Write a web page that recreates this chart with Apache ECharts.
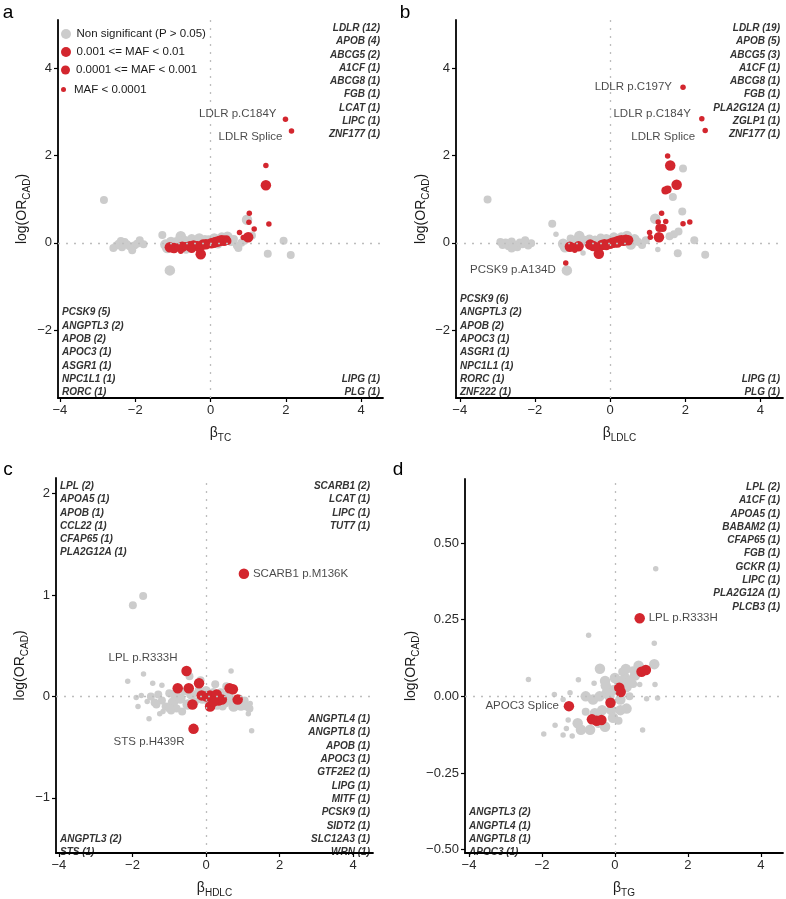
<!DOCTYPE html>
<html>
<head>
<meta charset="utf-8">
<script src="https://cdn.jsdelivr.net/npm/echarts@6/dist/echarts.min.js"></script>
<style>
  html, body { margin: 0; background: #fff; }
  #chart { width: 786px; height: 899px; }
</style>
</head>
<body>
<div id="chart"></div>
<script>
// ---- data: [beta, log(OR_CAD), MAF class] (class 1: MAF<1e-4, 2: 1e-4..1e-3, 3: 1e-3..1e-2)
const aNonSig = [
  [-2.83, 0.98, 2], [-2.58, -0.12, 2], [-2.5, -0.06, 2], [-2.44, -0.02, 2], [-2.38, 0.04, 2],
  [-2.32, -0.05, 2], [-2.28, 0.02, 2], [-2.22, -0.03, 2], [-2.15, -0.08, 2], [-2.08, -0.17, 2],
  [-2.02, -0.06, 2], [-1.95, -0.02, 2], [-1.88, 0.06, 2], [-1.78, -0.03, 2], [-2.35, -0.1, 2],
  [-1.28, 0.18, 2], [-1.2, -0.04, 3], [-1.15, -0.12, 3], [-1.08, -0.63, 3], [-1.05, 0.02, 3],
  [-0.9, 0.04, 2], [-0.79, 0.15, 3], [-0.7, 0.05, 3], [-0.6, -0.02, 2], [-0.5, 0.08, 3],
  [-0.38, 0.02, 2], [-0.3, 0.1, 3], [-0.15, 0.06, 3], [-0.05, 0.08, 2], [0.1, 0.1, 3],
  [0.3, 0.12, 3], [0.45, 0.14, 3], [0.55, 0.05, 3], [0.62, 0.09, 2], [0.7, -0.06, 2],
  [0.74, -0.12, 2], [0.82, 0.0, 2], [0.9, 0.05, 2], [0.97, 0.53, 3], [1.1, 0.17, 2],
  [1.52, -0.25, 2], [1.94, 0.05, 2], [2.13, -0.28, 2], [-0.65, -0.16, 2], [0.2, -0.04, 2]
];
const aSig = [
  [1.99, 2.83, 1], [2.15, 2.56, 1], [1.47, 1.77, 1], [1.47, 1.32, 3], [1.03, 0.68, 1],
  [1.02, 0.47, 1], [1.16, 0.32, 1], [1.55, 0.43, 1], [0.77, 0.24, 1], [0.87, 0.12, 1],
  [1.0, 0.13, 3],
  [-1.08, -0.1, 3], [-0.97, -0.12, 3], [-0.85, -0.1, 2], [-0.75, -0.09, 3], [-0.65, -0.07, 2],
  [-0.55, -0.08, 3], [-0.45, -0.06, 3], [-0.35, -0.05, 2], [-0.26, -0.26, 3], [-0.3, -0.1, 3],
  [-0.2, -0.04, 3], [-0.12, -0.03, 3], [-0.05, -0.02, 2], [0.02, -0.01, 3], [0.08, 0.0, 3],
  [0.14, 0.02, 3], [0.2, 0.03, 3], [0.25, 0.05, 3], [0.3, 0.06, 3], [0.36, 0.05, 3],
  [0.42, 0.08, 2], [0.45, 0.04, 2], [-0.79, -0.19, 1], [-0.5, -0.14, 2]
];
const aLabels = [[1.99, 2.83, 'LDLR p.C184Y'], [2.15, 2.56, 'LDLR Splice']];
const aGenesTopRight = ['LDLR (12)', 'APOB (4)', 'ABCG5 (2)', 'A1CF (1)', 'ABCG8 (1)', 'FGB (1)', 'LCAT (1)', 'LIPC (1)', 'ZNF177 (1)'];
const aGenesBottomLeft = ['PCSK9 (5)', 'ANGPTL3 (2)', 'APOB (2)', 'APOC3 (1)', 'ASGR1 (1)', 'NPC1L1 (1)', 'RORC (1)'];
const aGenesBottomRight = ['LIPG (1)', 'PLG (1)'];

const bNonSig = [
  [-3.26, 0.99, 2], [-2.92, 0.02, 2], [-2.86, -0.05, 2], [-2.78, 0.01, 2], [-2.7, -0.08, 2],
  [-2.62, 0.03, 2], [-2.55, -0.04, 2], [-2.47, -0.1, 2], [-2.4, 0.01, 2], [-2.33, -0.03, 2],
  [-2.26, 0.06, 2], [-2.18, -0.06, 2], [-2.1, -0.01, 2], [-2.62, -0.13, 2],
  [-1.54, 0.44, 2], [-1.44, 0.2, 1], [-1.25, -0.02, 3], [-1.2, -0.1, 3], [-1.15, -0.63, 3],
  [-1.05, 0.1, 2], [-0.95, 0.04, 3], [-0.82, 0.16, 3], [-0.72, -0.23, 1], [-0.7, 0.05, 3],
  [-0.55, 0.1, 2], [-0.4, 0.05, 3], [-0.25, 0.12, 2], [-0.1, 0.08, 3], [0.1, 0.12, 3],
  [0.3, 0.12, 3], [0.45, 0.16, 3], [0.55, -0.04, 3], [0.65, 0.08, 3], [0.75, 0.02, 2],
  [0.85, -0.05, 2], [0.95, 0.06, 2], [1.2, 0.55, 3], [1.27, -0.15, 1], [1.58, 0.15, 2],
  [1.67, 1.05, 2], [1.82, 0.26, 2], [1.92, 0.72, 2], [1.94, 1.7, 2], [1.8, -0.24, 2],
  [2.24, 0.06, 2], [2.53, -0.27, 2], [1.7, 0.2, 2]
];
const bSig = [
  [1.94, 3.56, 1], [2.44, 2.84, 1], [2.53, 2.57, 1], [1.53, 1.99, 1], [1.6, 1.77, 3],
  [1.77, 1.33, 3], [1.47, 1.2, 2], [1.53, 1.22, 2], [1.37, 0.68, 1], [1.28, 0.48, 1],
  [1.48, 0.49, 1], [1.31, 0.34, 2], [1.4, 0.34, 2], [1.3, 0.13, 3], [1.05, 0.24, 1],
  [1.07, 0.13, 1], [1.94, 0.44, 1], [2.12, 0.48, 1], [-1.18, -0.46, 1],
  [-1.07, -0.09, 3], [-0.98, -0.1, 2], [-0.94, -0.17, 1], [-0.84, -0.08, 3], [-0.53, -0.04, 3],
  [-0.45, -0.07, 3], [-0.38, -0.1, 2], [-0.3, -0.25, 3], [-0.22, -0.05, 3], [-0.15, -0.03, 3],
  [-0.08, -0.04, 2], [0.0, -0.02, 3], [0.06, 0.0, 3], [0.12, 0.01, 3], [0.18, 0.03, 3],
  [0.24, 0.05, 3], [0.3, 0.06, 3], [0.36, 0.05, 3], [0.42, 0.07, 3], [0.48, 0.06, 3],
  [0.2, -0.02, 2], [-0.1, -0.08, 2]
];
const bLabels = [[1.94, 3.56, 'LDLR p.C197Y'], [2.44, 2.84, 'LDLR p.C184Y'], [2.53, 2.57, 'LDLR Splice'], [-1.18, -0.46, 'PCSK9 p.A134D']];
const bGenesTopRight = ['LDLR (19)', 'APOB (5)', 'ABCG5 (3)', 'A1CF (1)', 'ABCG8 (1)', 'FGB (1)', 'PLA2G12A (1)', 'ZGLP1 (1)', 'ZNF177 (1)'];
const bGenesBottomLeft = ['PCSK9 (6)', 'ANGPTL3 (2)', 'APOB (2)', 'APOC3 (1)', 'ASGR1 (1)', 'NPC1L1 (1)', 'RORC (1)', 'ZNF222 (1)'];
const bGenesBottomRight = ['LIPG (1)', 'PLG (1)'];

const cNonSig = [
  [-1.71, 0.99, 2], [-1.99, 0.9, 2], [-1.7, 0.22, 1], [-2.13, 0.15, 1], [-1.45, 0.13, 1],
  [-1.2, 0.11, 1], [-1.55, -0.22, 1], [-1.26, -0.17, 1], [-1.17, -0.15, 1], [1.24, -0.34, 1],
  [0.68, 0.25, 1], [1.15, -0.17, 1], [-1.9, -0.01, 1], [-1.76, 0.01, 1], [-1.85, -0.1, 1],
  [-1.6, -0.05, 1], [-1.5, 0.0, 2], [-1.4, -0.06, 2], [-1.3, 0.02, 2], [-1.2, -0.04, 2],
  [-1.1, -0.1, 2], [-1.0, 0.03, 2], [-0.9, -0.06, 3], [-0.8, -0.12, 2], [-0.7, -0.02, 3],
  [-0.6, 0.05, 2], [-0.5, -0.08, 3], [-0.4, 0.02, 3], [-0.3, -0.05, 2], [-0.2, 0.06, 2],
  [-0.45, 0.2, 2], [-0.1, -0.02, 3], [0.0, 0.05, 3], [0.1, -0.06, 3], [0.2, 0.03, 3],
  [0.3, -0.08, 3], [0.4, 0.04, 2], [0.5, -0.06, 3], [0.6, 0.02, 3], [0.7, -0.04, 3],
  [0.8, -0.08, 2], [0.9, -0.02, 2], [1.0, -0.08, 2], [1.1, -0.1, 2], [1.2, -0.07, 1],
  [0.55, 0.1, 2], [-1.0, -0.12, 2], [-0.65, -0.15, 2], [-1.35, -0.08, 2], [-0.85, 0.02, 3],
  [0.95, -0.09, 3], [1.05, -0.04, 2], [0.75, -0.1, 3], [0.45, -0.1, 2], [-0.15, 0.16, 2],
  [0.25, 0.12, 2], [1.18, -0.12, 2], [-0.95, -0.14, 2]
];
const cSig = [
  [1.03, 1.21, 3], [-0.53, 0.25, 3], [-0.34, -0.32, 3], [-0.77, 0.08, 3], [-0.47, 0.08, 3],
  [-0.19, 0.13, 3], [-0.37, -0.08, 3], [-0.12, 0.01, 3], [0.11, -0.1, 3], [0.11, 0.01, 3],
  [0.29, 0.02, 3], [0.34, -0.04, 3], [0.43, -0.03, 3], [0.2, -0.05, 3], [0.0, 0.0, 3],
  [0.64, 0.08, 3], [0.73, 0.07, 3], [0.86, -0.03, 3]
];
const cLabels = [[1.03, 1.21, 'SCARB1 p.M136K'], [-0.53, 0.25, 'LPL p.R333H'], [-0.34, -0.32, 'STS p.H439R']];
const cGenesTopLeft = ['LPL (2)', 'APOA5 (1)', 'APOB (1)', 'CCL22 (1)', 'CFAP65 (1)', 'PLA2G12A (1)'];
const cGenesTopRight = ['SCARB1 (2)', 'LCAT (1)', 'LIPC (1)', 'TUT7 (1)'];
const cGenesBottomRight = ['ANGPTL4 (1)', 'ANGPTL8 (1)', 'APOB (1)', 'APOC3 (1)', 'GTF2E2 (1)', 'LIPG (1)', 'MITF (1)', 'PCSK9 (1)', 'SIDT2 (1)', 'SLC12A3 (1)', 'WRN (1)'];
const cGenesBottomLeft = ['ANGPTL3 (2)', 'STS (1)'];

const dNonSig = [
  [1.12, 0.416, 1], [-0.72, 0.199, 1], [1.08, 0.173, 1], [-2.37, 0.055, 1], [-1.0, 0.054, 1],
  [-0.41, 0.09, 3], [-0.27, 0.05, 3], [0.3, 0.089, 3], [0.55, 0.068, 3], [1.08, 0.105, 3],
  [1.1, 0.039, 1], [1.17, -0.005, 1], [0.87, -0.008, 1], [0.68, 0.039, 1], [0.76, -0.11, 1],
  [-1.95, -0.123, 1], [-1.64, -0.094, 1], [-1.66, 0.006, 1], [-1.42, -0.01, 1], [-1.23, 0.012, 1],
  [-0.57, 0.043, 1], [-0.8, 0.0, 3], [-1.02, -0.088, 3], [-0.93, -0.109, 3], [-0.68, -0.109, 3],
  [-0.27, -0.099, 3], [-1.28, -0.077, 1], [-1.33, -0.105, 1], [-1.42, -0.126, 1], [-1.17, -0.129, 1],
  [-0.6, -0.01, 3], [-0.42, 0.0, 3], [-0.23, 0.01, 3], [-0.05, 0.02, 3], [0.15, -0.01, 3],
  [0.32, 0.03, 3], [0.32, -0.04, 3], [0.15, -0.045, 3], [-0.1, -0.045, 3], [-0.35, -0.045, 3],
  [-0.55, -0.055, 3], [-0.05, -0.07, 3], [-0.25, 0.035, 3], [0.0, 0.06, 3], [0.28, 0.06, 3],
  [0.4, 0.0, 2], [0.5, 0.04, 2], [0.65, 0.1, 3], [0.75, 0.09, 2], [0.2, 0.08, 2],
  [-0.8, -0.05, 2], [-0.45, -0.09, 2], [0.1, -0.08, 2], [0.42, 0.05, 3], [0.1, 0.05, 3],
  [-0.15, 0.0, 3], [0.5, 0.085, 2]
];
const dSig = [
  [0.68, 0.255, 3], [-1.26, -0.032, 3], [0.73, 0.08, 3], [0.85, 0.086, 3], [0.12, 0.028, 3],
  [0.16, 0.014, 3], [-0.12, -0.021, 3], [-0.63, -0.075, 3], [-0.5, -0.08, 3], [-0.37, -0.077, 3]
];
const dLabels = [[0.68, 0.255, 'LPL p.R333H'], [-1.26, -0.032, 'APOC3 Splice']];
const dGenesTopRight = ['LPL (2)', 'A1CF (1)', 'APOA5 (1)', 'BABAM2 (1)', 'CFAP65 (1)', 'FGB (1)', 'GCKR (1)', 'LIPC (1)', 'PLA2G12A (1)', 'PLCB3 (1)'];
const dGenesBottomLeft = ['ANGPTL3 (2)', 'ANGPTL4 (1)', 'ANGPTL8 (1)', 'APOC3 (1)'];

const xTicks = [-4, -2, 0, 2, 4];
const yTicksAB = [-2, 0, 2, 4];
const yTicksC = [-1, 0, 1, 2];
const yTicksD = [-0.5, -0.25, 0, 0.25, 0.5];

const NS_NAME = 'Non significant (P > 0.05)';
const MAF_NAMES = { 3: '0.001 <= MAF < 0.01', 2: '0.0001 <= MAF < 0.001', 1: 'MAF < 0.0001' };

// ---- styling / layout
const RED = '#D3262E';
const GRAY = '#CCCCCC';
const INK = '#1a1a1a';
const SIZE = { 1: 5.5, 2: 8, 3: 10.5 };
const FONT = '"Liberation Sans", Arial, Helvetica, sans-serif';
const GENE_FONT = 'italic bold 10px ' + FONT;
const GENE_LH = 13.3;

// label placement (label series has zero-size symbols, so distance is from the point centre):
// [position, distance, dx, dy]
const labelPlace = {
  a: [['left', 9, 0, -5], ['left', 9, 0, 6]],
  b: [['left', 11, 0, 0], ['left', 11, 0, -5], ['left', 10, 0, 6], ['left', 10, 0, 7]],
  c: [['right', 9, 0, 0], ['left', 9, 0, -13], ['left', 9, 0, 13]],
  d: [['right', 9, 0, 0], ['left', 10, 0, 0]]
};

const panels = [
  { key: 'a', trait: 'TC', grid: { left: 58, top: 20, width: 325, height: 378 },
    x: [-4.05, 4.58], y: [-3.55, 5.1], yTicks: yTicksAB, yDigits: 0, yGap: 26, xGap: 25,
    ns: aNonSig, sig: aSig, labels: aLabels,
    genes: { tr: aGenesTopRight, bl: aGenesBottomLeft, br: aGenesBottomRight }, letter: [8, 13] },
  { key: 'b', trait: 'LDLC', grid: { left: 456, top: 20, width: 327, height: 378 },
    x: [-4.1, 4.6], y: [-3.55, 5.1], yTicks: yTicksAB, yDigits: 0, yGap: 24, xGap: 25,
    ns: bNonSig, sig: bSig, labels: bLabels,
    genes: { tr: bGenesTopRight, bl: bGenesBottomLeft, br: bGenesBottomRight }, letter: [405, 13] },
  { key: 'c', trait: 'HDLC', grid: { left: 56, top: 478, width: 317, height: 380 },
    x: [-4.08, 4.54], y: [-1.545, 2.155], yTicks: yTicksC, yDigits: 0, yGap: 26, xGap: 25,
    ns: cNonSig, sig: cSig, labels: cLabels,
    genes: { tl: cGenesTopLeft, tr: cGenesTopRight, br: cGenesBottomRight, bl: cGenesBottomLeft }, letter: [8, 470] },
  { key: 'd', trait: 'TG', grid: { left: 465, top: 479, width: 318, height: 379 },
    x: [-4.11, 4.61], y: [-0.511, 0.709], yTicks: yTicksD, yDigits: 2, yGap: 44, xGap: 25,
    ns: dNonSig, sig: dSig, labels: dLabels,
    genes: { tr: dGenesTopRight, bl: dGenesBottomLeft }, letter: [398, 470] }
];

function minus(s) {
  return String(s).replace('-', '\u2212');
}

const nameRich = {
  n: { fontSize: 14, fontFamily: FONT, color: INK, lineHeight: 20 },
  s: { fontSize: 10, fontFamily: FONT, color: INK, verticalAlign: 'bottom', lineHeight: 12 }
};

const grid = [], xAxis = [], yAxis = [], series = [], graphic = [];

panels.forEach((p, i) => {
  grid.push(p.grid);
  xAxis.push({
    type: 'value', gridIndex: i, min: p.x[0], max: p.x[1],
    name: '{n|\u03B2}{s|' + p.trait + '}', nameLocation: 'middle', nameGap: p.xGap,
    nameTextStyle: { rich: nameRich },
    axisLine: { onZero: false, lineStyle: { color: '#000', width: 1.8 } },
    axisTick: { customValues: xTicks, length: 4, lineStyle: { color: '#000', width: 1.2 } },
    axisLabel: { customValues: xTicks, formatter: minus, fontSize: 13, color: '#2a2a2a', fontFamily: FONT, margin: 6 },
    splitLine: { show: false }
  });
  yAxis.push({
    type: 'value', gridIndex: i, min: p.y[0], max: p.y[1],
    name: '{n|log(OR}{s|CAD}{n|)}', nameLocation: 'middle', nameGap: p.yGap, nameRotate: 90,
    nameTextStyle: { rich: nameRich },
    axisLine: { onZero: false, lineStyle: { color: '#000', width: 1.8 } },
    axisTick: { customValues: p.yTicks, length: 4, lineStyle: { color: '#000', width: 1.2 } },
    axisLabel: { customValues: p.yTicks, formatter: v => minus(v.toFixed(p.yDigits)), fontSize: 13, color: '#2a2a2a', fontFamily: FONT, margin: 6 },
    splitLine: { show: false }
  });

  series.push({
    type: 'scatter', name: NS_NAME, xAxisIndex: i, yAxisIndex: i, z: 2,
    data: p.ns, symbolSize: v => SIZE[v[2]],
    itemStyle: { color: GRAY, opacity: 1 },
    markLine: {
      silent: true, symbol: ['none', 'none'], label: { show: false },
      lineStyle: { color: '#bdbdbd', type: [2, 6], width: 1.3 },
      data: [{ xAxis: 0 }, { yAxis: 0 }]
    }
  });
  [3, 2, 1].forEach(cls => {
    series.push({
      type: 'scatter', name: MAF_NAMES[cls], xAxisIndex: i, yAxisIndex: i, z: 3,
      data: p.sig.filter(d => d[2] === cls), symbolSize: SIZE[cls],
      itemStyle: { color: RED, opacity: 1 }
    });
  });
  series.push({
    type: 'scatter', xAxisIndex: i, yAxisIndex: i, z: 5, silent: true, symbolSize: 0,
    data: p.labels.map((l, j) => {
      const [pos, dist, dx, dy] = labelPlace[p.key][j];
      return {
        value: [l[0], l[1]],
        label: { show: true, formatter: l[2], position: pos, distance: dist, offset: [dx, dy],
          fontSize: 11.5, color: INK, fontFamily: FONT }
      };
    })
  });

  // gene lists in the corners
  const g = p.grid;
  const corners = {
    tr: { x: g.left + g.width - 3, y: g.top + 1.5, align: 'right', va: 'top' },
    tl: { x: g.left + 4, y: g.top + 1.5, align: 'left', va: 'top' },
    br: { x: g.left + g.width - 3, y: g.top + g.height + 1, align: 'right', va: 'bottom' },
    bl: { x: g.left + 4, y: g.top + g.height + 1, align: 'left', va: 'bottom' }
  };
  Object.keys(p.genes).forEach(k => {
    const c = corners[k];
    graphic.push({
      type: 'text', x: c.x, y: c.y, silent: true,
      style: { text: p.genes[k].join('\n'), font: GENE_FONT, fill: '#333',
        textAlign: c.align, textVerticalAlign: c.va, lineHeight: GENE_LH }
    });
  });
  graphic.push({
    type: 'text', x: p.letter[0], y: p.letter[1], silent: true,
    style: { text: p.key, font: '19px ' + FONT, fill: '#000', textAlign: 'center', textVerticalAlign: 'middle' }
  });
});

// legend inside panel a, one row per class so each key can keep its own dot size
const legendRows = [[NS_NAME, 33, 10], [MAF_NAMES[3], 51, 10], [MAF_NAMES[2], 68.5, 9], [MAF_NAMES[1], 86, 5]];
const legend = legendRows.map(([name, y, h]) => ({
  data: [name], left: 61, top: y - h / 2, itemWidth: 13, itemHeight: h, icon: 'circle',
  selectedMode: false, padding: 0, itemGap: 0,
  textStyle: { fontSize: 11.5, color: INK, fontFamily: FONT, padding: [0, 0, 0, -1] }
}));

const chart = echarts.init(document.getElementById('chart'), null, { renderer: 'canvas' });
chart.setOption({
  animation: false,
  backgroundColor: '#fff',
  grid, xAxis, yAxis, series, legend, graphic
});
</script>
</body>
</html>
